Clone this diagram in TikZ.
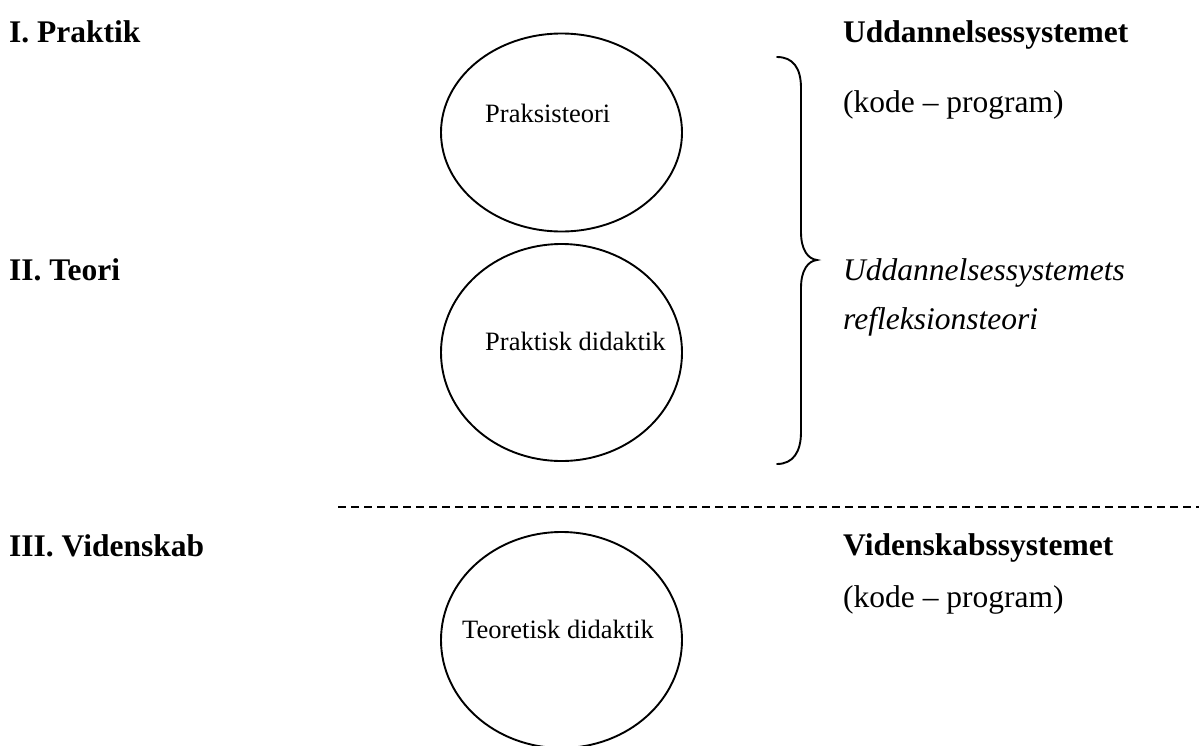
\documentclass[tikz,border=0pt]{standalone}
\usepackage{fontspec}
\setmainfont{Liberation Serif}
\usetikzlibrary{shapes.geometric}
\begin{document}
\begin{tikzpicture}[x=1pt,y=-1pt,
  head/.style={anchor=base west,inner sep=0pt,font=\fontsize{31.5}{36}\selectfont},
  headbf/.style={head,font=\fontsize{31.5}{36}\selectfont\bfseries},
  headit/.style={head,font=\fontsize{31.5}{36}\selectfont\itshape},
  intext/.style={anchor=base west,inner sep=0pt,font=\fontsize{26.5}{30}\selectfont},
  oval/.style={draw,ellipse,line width=1.9pt,inner sep=0pt,minimum width=241pt},
  sep/.style={line width=2pt,dash pattern=on 8pt off 5pt},
  bracestroke/.style={line width=1.9pt,line cap=round}]
\useasboundingbox (0,0) rectangle (1199,745);

% level labels
\node[headbf] (lp) at (9,42) {I. Praktik};
\node[headbf] (lt) at (9,280) {II. Teori};
\node[headbf] (lv) at (9,556) {III. Videnskab};

% ovals
\node[oval,minimum height=198pt] (o1) at (561.5,132.5) {};
\node[oval,minimum height=217pt] (o2) at (561.5,352.5) {};
\node[oval,minimum height=216pt] (o3) at (561.5,640) {};
\node[intext] (t1) at (485,122) {Praksisteori};
\node[intext] (t2) at (485,350) {Praktisk didaktik};
\node[intext] (t3) at (462,638) {Teoretisk didaktik};

% right-hand column
\node[headbf] (us) at (843,42) {Uddannelsessystemet};
\node[head] (kp1) at (843,112) {(kode – program)};
\node[headit] (ur1) at (843,280) {Uddannelsessystemets};
\node[headit] (ur2) at (843,329) {refleksionsteori};
\node[headbf] (vs) at (843,555) {Videnskabssystemet};
\node[head] (kp2) at (843,607) {(kode – program)};

% curly brace
\coordinate (bt) at (777,57);
\coordinate (bm) at (817,260);
\coordinate (bb) at (777,464);
\draw[bracestroke] (bt) .. controls (793,57) and (801,68) .. (801,88)
  -- (801,232) .. controls (801,250) and (808,259) .. (bm)
  .. controls (808,261) and (801,270) .. (801,288)
  -- (801,432) .. controls (801,452) and (793,464) .. (bb);

% separator between the systems
\coordinate (sa) at (338,507);
\coordinate (sb) at (1199,507);
\draw[sep] (sa) -- (sb);
\end{tikzpicture}
\end{document}
